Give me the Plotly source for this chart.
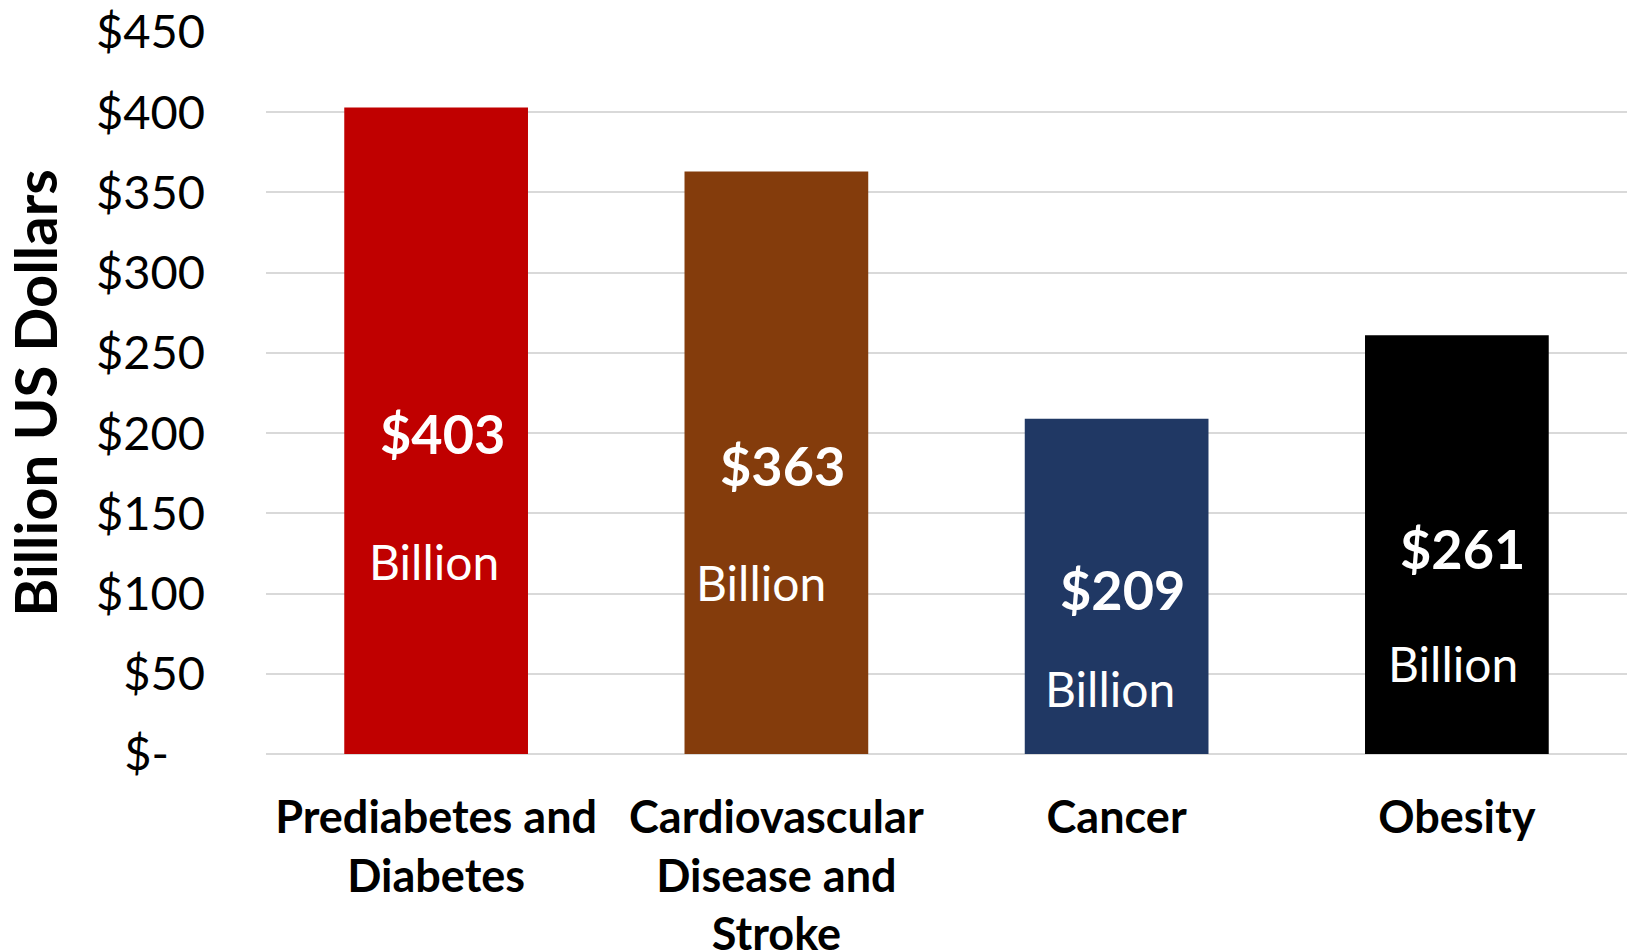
import plotly.graph_objects as go

# Annual cost by condition, billions of US dollars
categories = ["Prediabetes and<br>Diabetes", "Cardiovascular<br>Disease and<br>Stroke", "Cancer", "Obesity"]
costs = [403, 363, 209, 261]
bar_colors = ["#C00000", "#843C0C", "#203864", "#000000"]

tick_values = [0, 50, 100, 150, 200, 250, 300, 350, 400, 450]
tick_labels = ["$-\u00a0\u00a0\u00a0", "$50", "$100", "$150", "$200", "$250", "$300", "$350", "$400", "$450"]

# Label placement (fraction of bar height for the value, pixel offsets for "Billion")
value_frac = [0.496, 0.495, 0.491, 0.49]
billion_dx = [-2, -15, -7, -4]
billion_dy = [-128, -117, -99, -115]

FONT = "Lato"

fig = go.Figure()
fig.add_trace(go.Bar(
    x=categories, y=costs,
    marker=dict(color=bar_colors, line=dict(width=0)),
    width=0.54, hoverinfo="skip",
))

for cat, v, f, dx, dy in zip(categories, costs, value_frac, billion_dx, billion_dy):
    fig.add_annotation(x=cat, y=v * f, text=f"<b>${v}</b>", showarrow=False,
                       xshift=6, font=dict(family=FONT, size=54, color="white"))
    fig.add_annotation(x=cat, y=v * f, text="Billion", showarrow=False,
                       xshift=dx, yshift=dy, font=dict(family=FONT, size=48, color="white"))

fig.update_layout(
    width=1627, height=952,
    margin=dict(l=266, r=0, t=32, b=198, autoexpand=False),
    paper_bgcolor="white", plot_bgcolor="white",
    showlegend=False,
    font=dict(family=FONT, color="black"),
    xaxis=dict(
        automargin=False,
        showgrid=False, showline=False, zeroline=False, ticks="",
        tickfont=dict(family=FONT, size=45, color="black", weight="bold"),
        ticklabelstandoff=33,
    ),
    yaxis=dict(
        automargin=False,
        range=[0, 450], tickvals=tick_values, ticktext=tick_labels,
        showgrid=True, gridcolor="#D9D9D9", gridwidth=2,
        zeroline=True, zerolinecolor="#D9D9D9", zerolinewidth=2,
        showline=False, ticks="",
        tickfont=dict(family=FONT, size=47, color="black"),
        ticklabelstandoff=60,
        title=dict(text="<b>Billion US Dollars</b>", standoff=28,
                   font=dict(family=FONT, size=58, color="black")),
    ),
)

fig.write_html("out.html")
